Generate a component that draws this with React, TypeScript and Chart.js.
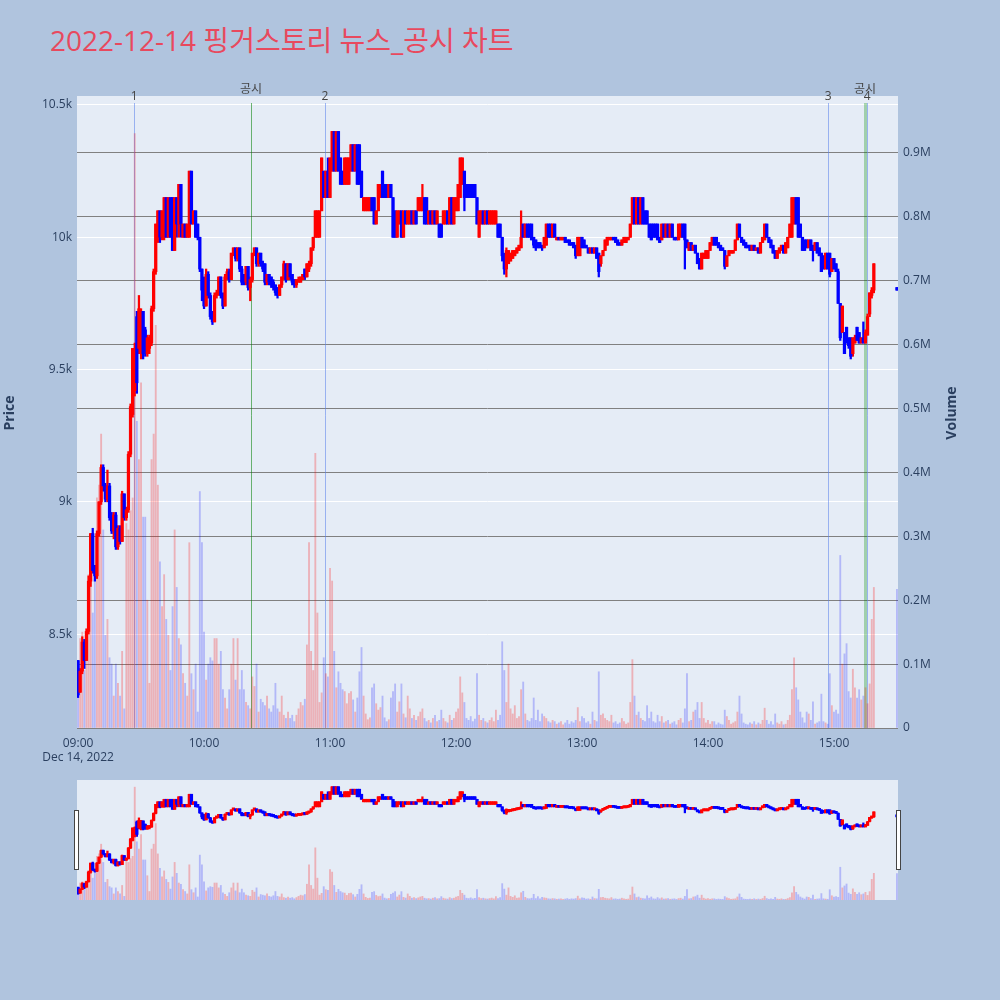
import React, { useEffect, useRef } from "react";
import { Chart, registerables } from "chart.js";

Chart.register(...registerables);

// ---------------- data ----------------
const TITLE = "2022-12-14 핑거스토리 뉴스_공시 차트";
const DATE_LABEL = "Dec 14, 2022";

// minutes after 09:00 (continuous session 09:00-15:19, closing auction 15:30)
const minuteOffsets: number[] = [...Array.from({ length: 380 }, (_, i) => i), 390];

const opens = [
  8400, 8280, 8360, 8470, 8400, 8510, 8700, 8880, 8740, 8720,
  8880, 9000, 9130, 9060, 9010, 9060, 8940, 8890, 8950, 8830,
  8900, 8850, 9030, 8940, 8970, 9180, 9330, 9420, 9700, 9580,
  9560, 9720, 9650, 9560, 9580, 9600, 9730, 9870, 10000, 10100,
  10000, 10000, 10150, 10000, 10150, 10150, 9950, 10150, 10050, 10200,
  10000, 10050, 10000, 10000, 10250, 10050, 10100, 10050, 10000, 9880,
  9800, 9740, 9860, 9780, 9700, 9680, 9780, 9790, 9850, 9780,
  9740, 9850, 9870, 9840, 9940, 9960, 9920, 9960, 9880, 9860,
  9830, 9890, 9810, 9840, 9940, 9960, 9900, 9940, 9900, 9900,
  9830, 9860, 9850, 9830, 9820, 9810, 9780, 9820, 9850, 9900,
  9840, 9900, 9860, 9840, 9820, 9830, 9830, 9840, 9880, 9850,
  9880, 9900, 9960, 10000, 10000, 10000, 10100, 10250, 10150, 10250,
  10150, 10250, 10400, 10250, 10400, 10300, 10250, 10200, 10200, 10200,
  10250, 10350, 10250, 10350, 10350, 10250, 10100, 10100, 10100, 10100,
  10150, 10150, 10050, 10100, 10150, 10250, 10200, 10200, 10150, 10200,
  10150, 10100, 10000, 10050, 10100, 10000, 10100, 10050, 10050, 10100,
  10050, 10100, 10100, 10100, 10100, 10150, 10150, 10050, 10100, 10050,
  10100, 10050, 10050, 10050, 10050, 10050, 10100, 10050, 10150, 10050,
  10100, 10100, 10150, 10200, 10250, 10200, 10200, 10200, 10200, 10200,
  10150, 10000, 10050, 10100, 10050, 10100, 10050, 10050, 10050, 10050,
  10050, 10050, 10000, 9930, 9880, 9900, 9910, 9920, 9930, 9940,
  9950, 9960, 10050, 10000, 10050, 10050, 10050, 10000, 9990, 9980,
  9980, 9970, 9960, 9970, 10050, 10050, 10000, 10050, 9990, 10000,
  9990, 9990, 10000, 9990, 9990, 9980, 9980, 9970, 9930, 9930,
  10000, 9990, 9970, 9960, 9940, 9960, 9940, 9960, 9940, 9900,
  9930, 9950, 9970, 9990, 9990, 10000, 10000, 9990, 9980, 9970,
  9980, 9980, 9990, 10000, 10050, 10150, 10050, 10150, 10050, 10150,
  10100, 10100, 10050, 10050, 10050, 10050, 10050, 10000, 9990, 10050,
  10000, 10050, 10000, 10050, 10000, 10000, 9990, 10000, 10050, 10050,
  9990, 9950, 9980, 9950, 9970, 9940, 9920, 9880, 9920, 9920,
  9920, 9950, 9970, 10000, 10000, 9980, 9970, 9960, 9950, 9890,
  9930, 9940, 9940, 9950, 9990, 10050, 10000, 9990, 9980, 9970,
  9970, 9950, 9970, 9950, 9960, 9940, 9980, 9990, 10050, 10000,
  9990, 9970, 9950, 9920, 9940, 9950, 9970, 9940, 9960, 10000,
  10000, 10050, 10150, 10150, 10050, 10000, 9990, 9990, 9960, 9990,
  9970, 9950, 9980, 9960, 9940, 9930, 9880, 9940, 9940, 9870,
  9920, 9900, 9870, 9750, 9640, 9640, 9660, 9620, 9620, 9560,
  9600, 9660, 9640, 9600, 9620, 9600, 9630, 9710, 9780, 9800,
  9810,
];

const closes = [
  8270, 8360, 8470, 8400, 8510, 8700, 8880, 8740, 8720, 8880,
  9000, 9130, 9060, 9010, 9060, 8940, 8890, 8950, 8830, 8900,
  8850, 9030, 8940, 8970, 9180, 9360, 9580, 9580, 9450, 9730,
  9720, 9560, 9570, 9620, 9620, 9730, 9870, 10050, 10100, 10000,
  10100, 10150, 10000, 10150, 10000, 9950, 10150, 10050, 10200, 10050,
  10050, 10000, 10050, 10250, 10050, 10100, 10000, 10000, 9880, 9800,
  9740, 9860, 9780, 9700, 9680, 9780, 9790, 9850, 9780, 9740,
  9850, 9870, 9840, 9940, 9960, 9920, 9960, 9880, 9830, 9830,
  9890, 9810, 9840, 9940, 9960, 9900, 9940, 9900, 9880, 9830,
  9860, 9830, 9820, 9810, 9790, 9780, 9820, 9850, 9900, 9840,
  9900, 9850, 9830, 9820, 9840, 9840, 9850, 9860, 9850, 9900,
  9900, 9960, 10000, 10100, 10100, 10100, 10300, 10150, 10250, 10150,
  10300, 10400, 10250, 10400, 10250, 10200, 10200, 10300, 10300, 10300,
  10350, 10250, 10350, 10200, 10200, 10150, 10150, 10150, 10150, 10150,
  10100, 10050, 10100, 10200, 10200, 10150, 10150, 10150, 10200, 10150,
  10000, 10000, 10100, 10100, 10000, 10100, 10050, 10100, 10100, 10050,
  10100, 10050, 10150, 10150, 10150, 10050, 10050, 10100, 10050, 10100,
  10050, 10100, 10000, 10000, 10100, 10100, 10050, 10150, 10050, 10150,
  10150, 10200, 10300, 10300, 10150, 10150, 10150, 10150, 10150, 10150,
  10050, 10100, 10100, 10050, 10100, 10050, 10100, 10100, 10100, 10100,
  10000, 10000, 9930, 9880, 9950, 9950, 9940, 9950, 9950, 9960,
  9970, 10000, 10000, 10050, 10000, 10000, 9990, 9970, 9960, 9960,
  9960, 9960, 10000, 10050, 10000, 10000, 10050, 10000, 10000, 9990,
  10000, 10000, 9980, 9980, 9970, 9970, 9960, 9930, 10000, 10000,
  9960, 9960, 9960, 9940, 9960, 9940, 9960, 9920, 9870, 9930,
  9950, 9990, 10000, 10000, 10000, 9990, 9980, 9970, 9970, 9990,
  10000, 10000, 10000, 10050, 10150, 10050, 10150, 10050, 10150, 10050,
  10050, 10050, 10000, 9990, 10000, 10000, 9990, 9980, 10050, 10000,
  10050, 10000, 10050, 10000, 9990, 9990, 10050, 10050, 10000, 9990,
  9960, 9980, 9950, 9970, 9940, 9900, 9880, 9940, 9940, 9950,
  9950, 9980, 10000, 9970, 9970, 9960, 9950, 9950, 9890, 9930,
  9950, 9950, 9950, 9990, 10050, 10000, 9980, 9970, 9960, 9960,
  9950, 9970, 9950, 9960, 9940, 9980, 10000, 10050, 10000, 9980,
  9960, 9940, 9920, 9950, 9960, 9970, 9940, 9980, 10000, 10050,
  10150, 10150, 10050, 10000, 10000, 9950, 9950, 9960, 9990, 9950,
  9950, 9980, 9940, 9930, 9870, 9880, 9940, 9880, 9860, 9920,
  9880, 9870, 9750, 9620, 9740, 9560, 9600, 9590, 9550, 9620,
  9620, 9610, 9600, 9620, 9600, 9640, 9700, 9790, 9800, 9900,
  9800,
];

const highs = [
  8400, 8370, 8490, 8480, 8520, 8720, 8880, 8900, 8760, 8890,
  9000, 9140, 9140, 9070, 9120, 9070, 8960, 8960, 8960, 8910,
  8910, 9040, 9030, 8980, 9190, 9370, 9580, 9600, 9720, 9780,
  9730, 9720, 9660, 9630, 9630, 9740, 9880, 10050, 10100, 10100,
  10100, 10150, 10150, 10150, 10150, 10150, 10150, 10150, 10200, 10200,
  10050, 10050, 10050, 10250, 10250, 10100, 10100, 10050, 10000, 9880,
  9850, 9880, 9870, 9790, 9720, 9790, 9800, 9850, 9850, 9790,
  9860, 9880, 9880, 9940, 9960, 9960, 9960, 9960, 9890, 9860,
  9890, 9890, 9850, 9940, 9960, 9960, 9940, 9940, 9910, 9900,
  9860, 9860, 9850, 9840, 9820, 9810, 9820, 9850, 9910, 9900,
  9900, 9900, 9860, 9840, 9840, 9850, 9850, 9860, 9880, 9900,
  9910, 9960, 10000, 10100, 10100, 10100, 10300, 10250, 10250, 10300,
  10300, 10400, 10400, 10400, 10400, 10300, 10250, 10300, 10300, 10300,
  10350, 10350, 10350, 10350, 10350, 10250, 10150, 10150, 10150, 10150,
  10150, 10150, 10100, 10200, 10200, 10250, 10200, 10200, 10200, 10200,
  10150, 10100, 10100, 10100, 10100, 10100, 10100, 10100, 10100, 10100,
  10100, 10100, 10150, 10150, 10200, 10150, 10150, 10100, 10100, 10100,
  10100, 10100, 10050, 10050, 10100, 10100, 10100, 10150, 10150, 10150,
  10150, 10200, 10300, 10300, 10250, 10200, 10200, 10200, 10200, 10200,
  10150, 10100, 10100, 10100, 10100, 10100, 10100, 10100, 10100, 10100,
  10050, 10050, 10000, 9940, 9960, 9950, 9940, 9950, 9950, 9960,
  9970, 10100, 10050, 10050, 10050, 10050, 10050, 10000, 9990, 9980,
  9980, 9970, 10000, 10050, 10050, 10050, 10050, 10050, 10000, 10000,
  10000, 10000, 10000, 9990, 9990, 9980, 9980, 9970, 10000, 10000,
  10000, 9990, 9970, 9960, 9960, 9960, 9960, 9960, 9940, 9930,
  9950, 9990, 10000, 10000, 10000, 10000, 10000, 9990, 9980, 9990,
  10000, 10000, 10000, 10050, 10150, 10150, 10150, 10150, 10150, 10150,
  10100, 10100, 10050, 10050, 10050, 10050, 10050, 10000, 10050, 10050,
  10050, 10050, 10050, 10050, 10000, 10000, 10050, 10050, 10050, 10050,
  9990, 9980, 9980, 9970, 9970, 9940, 9920, 9940, 9940, 9950,
  9950, 9980, 10000, 10000, 10000, 9980, 9970, 9960, 9950, 9930,
  9950, 9950, 9950, 9990, 10050, 10050, 10000, 9990, 9980, 9970,
  9970, 9970, 9970, 9960, 9960, 9980, 10000, 10050, 10050, 10000,
  9990, 9970, 9950, 9950, 9960, 9970, 9970, 9980, 10000, 10050,
  10150, 10150, 10150, 10150, 10050, 10000, 9990, 9990, 9990, 9990,
  9970, 9980, 9980, 9960, 9940, 9930, 9940, 9940, 9940, 9920,
  9920, 9900, 9880, 9750, 9740, 9640, 9660, 9620, 9620, 9620,
  9630, 9660, 9640, 9620, 9680, 9650, 9710, 9790, 9810, 9900,
  9810,
];

const lows = [
  8260, 8280, 8350, 8370, 8400, 8500, 8680, 8730, 8700, 8710,
  8870, 8990, 9040, 9000, 9000, 8930, 8880, 8860, 8820, 8820,
  8840, 8850, 8930, 8930, 8960, 9170, 9320, 9400, 9410, 9560,
  9540, 9540, 9550, 9550, 9560, 9590, 9720, 9860, 9980, 9980,
  9990, 9990, 10000, 10000, 10000, 9950, 9950, 10000, 10000, 10000,
  10000, 10000, 10000, 10000, 10050, 10050, 10000, 9990, 9870, 9760,
  9730, 9740, 9770, 9690, 9670, 9680, 9770, 9780, 9770, 9730,
  9740, 9840, 9830, 9840, 9930, 9910, 9910, 9870, 9820, 9820,
  9820, 9800, 9760, 9830, 9930, 9890, 9890, 9890, 9870, 9820,
  9820, 9820, 9810, 9800, 9780, 9770, 9780, 9810, 9840, 9830,
  9840, 9840, 9820, 9810, 9810, 9830, 9830, 9840, 9840, 9850,
  9870, 9890, 9950, 10000, 10000, 10000, 10100, 10150, 10150, 10150,
  10150, 10250, 10250, 10250, 10250, 10200, 10200, 10200, 10200, 10200,
  10250, 10250, 10250, 10200, 10200, 10150, 10100, 10100, 10100, 10100,
  10100, 10050, 10050, 10100, 10150, 10150, 10150, 10150, 10150, 10150,
  10000, 10000, 10000, 10050, 10000, 10000, 10050, 10050, 10050, 10050,
  10050, 10050, 10100, 10100, 10100, 10050, 10050, 10050, 10050, 10050,
  10050, 10050, 10000, 10000, 10050, 10050, 10050, 10050, 10050, 10050,
  10100, 10100, 10150, 10200, 10100, 10150, 10150, 10150, 10150, 10150,
  10050, 10000, 10050, 10050, 10050, 10050, 10050, 10050, 10050, 10050,
  10000, 10000, 9910, 9860, 9850, 9900, 9910, 9920, 9930, 9940,
  9950, 9960, 10000, 10000, 10000, 10000, 9990, 9960, 9950, 9960,
  9960, 9950, 9960, 9970, 10000, 10000, 10000, 10000, 9990, 9990,
  9990, 9990, 9980, 9980, 9970, 9970, 9960, 9920, 9930, 9930,
  9960, 9960, 9960, 9940, 9940, 9940, 9940, 9920, 9850, 9890,
  9930, 9950, 9970, 9990, 9990, 9990, 9980, 9970, 9970, 9970,
  9980, 9980, 9990, 10000, 10050, 10050, 10050, 10050, 10050, 10050,
  10050, 10050, 10000, 9990, 10000, 10000, 9990, 9980, 9990, 10000,
  10000, 10000, 10000, 10000, 9990, 9990, 9990, 10000, 10000, 9880,
  9960, 9950, 9950, 9950, 9940, 9900, 9880, 9880, 9920, 9920,
  9920, 9950, 9970, 9970, 9970, 9960, 9950, 9950, 9880, 9890,
  9930, 9940, 9940, 9950, 9990, 10000, 9980, 9970, 9960, 9960,
  9950, 9950, 9950, 9950, 9940, 9940, 9980, 9990, 10000, 9980,
  9960, 9940, 9920, 9920, 9940, 9950, 9940, 9940, 9960, 10000,
  10000, 10050, 10050, 10000, 10000, 9950, 9950, 9960, 9960, 9950,
  9910, 9950, 9940, 9930, 9870, 9880, 9880, 9880, 9850, 9870,
  9880, 9870, 9750, 9610, 9640, 9560, 9600, 9580, 9540, 9550,
  9600, 9610, 9600, 9600, 9600, 9600, 9630, 9700, 9770, 9790,
  9800,
];

// volume in thousands of shares
const volumesK = [
  47, 140, 150, 90, 120, 240, 300, 180, 240, 360,
  380, 460, 310, 145, 170, 110, 100, 50, 100, 70,
  50, 120, 30, 320, 310, 340, 360, 930, 480, 420,
  540, 330, 330, 200, 70, 420, 460, 630, 380, 260,
  190, 240, 170, 145, 90, 190, 310, 220, 140, 130,
  85, 70, 50, 290, 85, 60, 100, 25, 370, 290,
  150, 75, 100, 110, 105, 140, 140, 100, 120, 60,
  47, 30, 60, 100, 140, 75, 140, 60, 90, 60,
  40, 35, 30, 80, 65, 100, 25, 45, 40, 35,
  50, 30, 25, 35, 70, 30, 25, 50, 20, 15,
  25, 15, 20, 10, 20, 30, 40, 35, 45, 130,
  290, 120, 90, 430, 180, 40, 55, 110, 85, 80,
  250, 230, 120, 63, 88, 70, 60, 57, 38, 54,
  57, 44, 25, 47, 88, 126, 50, 22, 13, 16,
  63, 69, 38, 28, 32, 50, 16, 10, 13, 47,
  57, 69, 25, 41, 69, 22, 16, 50, 30, 15,
  20, 12, 18, 25, 30, 15, 10, 12, 8, 15,
  20, 10, 12, 28, 15, 10, 8, 20, 12, 15,
  25, 30, 80, 55, 40, 15, 12, 18, 10, 14,
  85, 20, 12, 15, 10, 8, 12, 16, 10, 28,
  12, 20, 135, 90, 40, 100, 30, 22, 35, 15,
  18, 60, 72, 22, 12, 10, 15, 47, 12, 28,
  10, 22, 18, 15, 10, 8, 12, 10, 6, 8,
  10, 5, 8, 12, 6, 10, 8, 12, 32, 10,
  18, 15, 8, 10, 6, 25, 12, 10, 88, 20,
  22, 15, 12, 10, 20, 8, 10, 6, 8, 15,
  10, 6, 8, 40, 107, 50, 20, 25, 15, 12,
  10, 35, 15, 25, 10, 8, 20, 10, 18, 8,
  10, 12, 6, 8, 10, 5, 12, 15, 8, 30,
  85, 10, 12, 25, 28, 40, 15, 40, 15, 8,
  12, 6, 10, 10, 5, 8, 6, 5, 28, 18,
  12, 6, 8, 10, 25, 50, 22, 8, 6, 5,
  8, 6, 10, 5, 8, 6, 12, 31, 12, 6,
  10, 5, 22, 8, 6, 10, 5, 6, 12, 20,
  60, 110, 63, 44, 25, 16, 8, 25, 22, 12,
  41, 6, 8, 10, 53, 10, 8, 6, 85, 35,
  25, 28, 22, 270, 100, 116, 132, 57, 47, 92,
  63, 47, 60, 44, 50, 63, 38, 69, 170, 220,
  217,
];

const priceTicks = [8500, 9000, 9500, 10000, 10500];
const priceTickLabels = ["8.5k", "9k", "9.5k", "10k", "10.5k"];
const volumeTicks = [0, 100, 200, 300, 400, 500, 600, 700, 800, 900];
const volumeTickLabels = ["0", "0.1M", "0.2M", "0.3M", "0.4M", "0.5M", "0.6M", "0.7M", "0.8M", "0.9M"];
const timeTicks = [0, 60, 120, 180, 240, 300, 360];
const timeTickLabels = ["09:00", "10:00", "11:00", "12:00", "13:00", "14:00", "15:00"];

const newsLabels = ["1", "2", "3", "4"];
const newsMinutes = [26.7, 117.6, 357.2, 375.8];
const disclosureLabels = ["공시", "공시"];
const disclosureMinutes = [82.4, 374.8];

const PRICE_MIN = 8145;
const PRICE_MAX = 10534;
const VOLUME_MAX = 989;
const TIME_MIN = -0.5;
const TIME_MAX = 390.5;

// ---------------- style ----------------
const PAPER_BG = "#b0c4de";
const PLOT_BG = "#e5ecf6";
const UP = "#ff0000";
const DOWN = "#0000ff";
const UP_FADED = "rgba(255,0,0,0.25)";
const DOWN_FADED = "rgba(0,0,255,0.22)";
const TEXT = "#2a3f5f";
const FONT = '"Open Sans", "Noto Sans CJK KR", sans-serif';

function buildDatasets(sz: { vol: number; wick: number; body: number; minLen: number }) {
  const n = Math.min(minuteOffsets.length, opens.length, highs.length, lows.length, closes.length, volumesK.length);
  const vol: any[] = [], wick: any[] = [], body: any[] = [], solid: string[] = [], faded: string[] = [];
  for (let i = 0; i < n; i++) {
    const rising = closes[i] >= opens[i];
    solid.push(rising ? UP : DOWN);
    faded.push(rising ? UP_FADED : DOWN_FADED);
    vol.push({ x: minuteOffsets[i], y: volumesK[i] });
    wick.push({ x: minuteOffsets[i], y: [lows[i], highs[i]] });
    body.push({ x: minuteOffsets[i], y: [opens[i], closes[i]] });
  }
  return [
    { type: "bar", label: "Volume", data: vol, xAxisID: "x", yAxisID: "yVol", backgroundColor: faded, barThickness: sz.vol, grouped: false, order: 3, borderWidth: 0 },
    { type: "bar", label: "wick", data: wick, xAxisID: "x", yAxisID: "y", backgroundColor: solid, barThickness: sz.wick, grouped: false, order: 2, borderWidth: 0, minBarLength: sz.minLen },
    { type: "bar", label: "Price", data: body, xAxisID: "x", yAxisID: "y", backgroundColor: solid, barThickness: sz.body, grouped: false, order: 1, borderWidth: 0, minBarLength: sz.minLen },
  ];
}

const mainDecor = {
  id: "mainDecor",
  beforeDraw(chart: any) {
    const { ctx, chartArea: a } = chart;
    ctx.save();
    ctx.fillStyle = PLOT_BG;
    ctx.fillRect(a.left, a.top, a.right - a.left, a.bottom - a.top);
    ctx.restore();
  },
  beforeDatasetsDraw(chart: any) {
    const { ctx, chartArea: a } = chart;
    const xs = chart.scales.x;
    ctx.save();
    newsMinutes.forEach((m) => {
      const x = Math.round(xs.getPixelForValue(m)) + 0.5;
      ctx.strokeStyle = "rgba(90,130,235,0.55)";
      ctx.lineWidth = 1;
      ctx.beginPath();
      ctx.moveTo(x, a.top + 7);
      ctx.lineTo(x, a.bottom);
      ctx.stroke();
    });
    disclosureMinutes.forEach((m, i) => {
      const x = Math.round(xs.getPixelForValue(m)) + 0.5;
      ctx.strokeStyle = i === 0 ? "rgba(0,128,0,0.55)" : "rgba(0,140,0,0.3)";
      ctx.lineWidth = i === 0 ? 1 : 3;
      ctx.beginPath();
      ctx.moveTo(x, a.top + 7);
      ctx.lineTo(x, a.bottom);
      ctx.stroke();
    });
    ctx.restore();
  },
  afterDraw(chart: any) {
    const { ctx } = chart;
    const xs = chart.scales.x;
    ctx.save();
    ctx.fillStyle = "#444";
    ctx.font = `12px ${FONT}`;
    ctx.textAlign = "center";
    ctx.textBaseline = "middle";
    newsMinutes.forEach((m, i) => ctx.fillText(newsLabels[i], xs.getPixelForValue(m), 97));
    disclosureMinutes.forEach((m, i) => ctx.fillText(disclosureLabels[i], xs.getPixelForValue(m), 90));
    ctx.fillStyle = TEXT;
    ctx.font = `bold 14px ${FONT}`;
    ctx.translate(10, 413);
    ctx.rotate(-Math.PI / 2);
    ctx.fillText("Price", 0, 0);
    ctx.restore();
    ctx.save();
    ctx.fillStyle = TEXT;
    ctx.font = `bold 14px ${FONT}`;
    ctx.textAlign = "center";
    ctx.textBaseline = "middle";
    ctx.translate(952, 413);
    ctx.rotate(-Math.PI / 2);
    ctx.fillText("Volume", 0, 0);
    ctx.restore();
  },
};

const sliderDecor = {
  id: "sliderDecor",
  beforeDraw(chart: any) {
    const { ctx, chartArea: a } = chart;
    ctx.save();
    ctx.fillStyle = PLOT_BG;
    ctx.fillRect(a.left, a.top, a.right - a.left, a.bottom - a.top);
    ctx.restore();
  },
  afterDraw(chart: any) {
    const { ctx, chartArea: a } = chart;
    const cy = (a.top + a.bottom) / 2;
    ctx.save();
    ctx.fillStyle = "#ffffff";
    ctx.strokeStyle = "#444";
    ctx.lineWidth = 1;
    [a.left - 2.5, a.right - 1.5].forEach((x) => {
      ctx.fillRect(x, cy - 30, 4, 60);
      ctx.strokeRect(x, cy - 30 + 0.5, 4, 59);
    });
    ctx.restore();
  },
};

export default function App() {
  const mainRef = useRef<HTMLCanvasElement | null>(null);
  const sliderRef = useRef<HTMLCanvasElement | null>(null);

  useEffect(() => {
    document.body.style.margin = "0";
    const tickFont = { family: FONT, size: 12 };

    const main = new Chart(mainRef.current as HTMLCanvasElement, {
      type: "bar",
      data: { datasets: buildDatasets({ vol: 1.2, wick: 1.6, body: 2.6, minLen: 2 }) as any },
      options: {
        responsive: false,
        animation: false,
        events: [],
        layout: { padding: { top: 96, left: 0, right: 0, bottom: 0 } },
        plugins: { legend: { display: false }, tooltip: { enabled: false } },
        scales: {
          x: {
            type: "linear",
            min: TIME_MIN,
            max: TIME_MAX,
            offset: false,
            grid: { display: false, drawTicks: false },
            border: { display: false },
            afterBuildTicks: (s: any) => {
              s.ticks = timeTicks.map((v) => ({ value: v }));
            },
            afterFit: (s: any) => {
              s.height = 42;
            },
            ticks: {
              autoSkip: false,
              maxRotation: 0,
              minRotation: 0,
              padding: 8,
              color: TEXT,
              font: tickFont,
              callback: (v: any) => {
                const i = timeTicks.indexOf(Number(v));
                if (i === 0) return [timeTickLabels[0], DATE_LABEL];
                return i >= 0 ? timeTickLabels[i] : "";
              },
            },
          },
          y: {
            type: "linear",
            position: "left",
            min: PRICE_MIN,
            max: PRICE_MAX,
            grid: { color: "#ffffff", lineWidth: 1, drawTicks: false },
            border: { display: false },
            afterBuildTicks: (s: any) => {
              s.ticks = priceTicks.map((v) => ({ value: v }));
            },
            afterFit: (s: any) => {
              s.width = 77;
            },
            ticks: {
              padding: 5,
              color: TEXT,
              font: tickFont,
              callback: (v: any) => {
                const i = priceTicks.indexOf(Number(v));
                return i >= 0 ? priceTickLabels[i] : "";
              },
            },
          },
          yVol: {
            type: "linear",
            position: "right",
            min: 0,
            max: VOLUME_MAX,
            grid: { color: "#808080", lineWidth: 1, drawTicks: false },
            border: { display: false },
            afterBuildTicks: (s: any) => {
              s.ticks = volumeTicks.map((v) => ({ value: v }));
            },
            afterFit: (s: any) => {
              s.width = 102;
            },
            ticks: {
              padding: 5,
              color: TEXT,
              font: tickFont,
              callback: (v: any) => {
                const i = volumeTicks.indexOf(Number(v));
                return i >= 0 ? volumeTickLabels[i] : "";
              },
            },
          },
        },
      } as any,
      plugins: [mainDecor],
    });

    const slider = new Chart(sliderRef.current as HTMLCanvasElement, {
      type: "bar",
      data: { datasets: buildDatasets({ vol: 1.2, wick: 1.6, body: 2.6, minLen: 2 }) as any },
      options: {
        responsive: false,
        animation: false,
        events: [],
        layout: { padding: { top: 10, left: 77, right: 102, bottom: 10 } },
        plugins: { legend: { display: false }, tooltip: { enabled: false } },
        scales: {
          x: { type: "linear", display: false, min: TIME_MIN, max: TIME_MAX, offset: false },
          y: { type: "linear", display: false, min: PRICE_MIN, max: PRICE_MAX },
          yVol: { type: "linear", display: false, min: 0, max: VOLUME_MAX },
        },
      } as any,
      plugins: [sliderDecor],
    });

    return () => {
      main.destroy();
      slider.destroy();
    };
  }, []);

  return (
    <div
      style={{
        position: "fixed",
        left: 0,
        top: 0,
        width: 1000,
        height: 1000,
        background: PAPER_BG,
        overflow: "hidden",
      }}
    >
      <div
        style={{
          position: "absolute",
          left: 50,
          top: 23,
          fontFamily: FONT,
          fontSize: 28,
          lineHeight: "34px",
          color: "#e8495e",
          whiteSpace: "nowrap",
        }}
      >
        {TITLE}
      </div>
      <canvas ref={mainRef} width={1000} height={770} style={{ position: "absolute", left: 0, top: 0 }} />
      <canvas ref={sliderRef} width={1000} height={140} style={{ position: "absolute", left: 0, top: 770 }} />
    </div>
  );
}
